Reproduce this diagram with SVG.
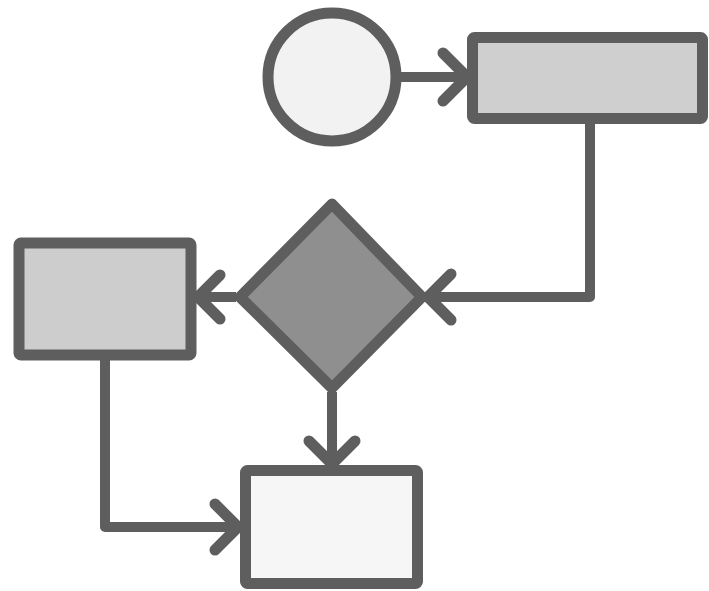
<svg xmlns="http://www.w3.org/2000/svg" width="709" height="591" viewBox="0 0 709 591">
<style>
.node{stroke:#5e5e5e;stroke-width:11;stroke-linejoin:round}
.conn{fill:none;stroke:#5e5e5e;stroke-width:10;stroke-linejoin:round}
.head{fill:none;stroke:#5e5e5e;stroke-width:11;stroke-linecap:round;stroke-linejoin:round}
</style>
<rect width="709" height="591" fill="#ffffff"/>
<g id="connectors">
  <line class="conn" x1="396" y1="77" x2="466" y2="77"/>
  <polyline class="head" points="443,53 467,77 443,101"/>
  <polyline class="conn" points="590,122 590,297 428,297"/>
  <polyline class="head" points="451,274 428,297 451,320"/>
  <line class="conn" x1="236" y1="297" x2="197" y2="297"/>
  <polyline class="head" points="220,275 198,297 220,319"/>
  <line class="conn" x1="332" y1="392" x2="332" y2="464"/>
  <polyline class="head" points="309,441 332,464 355,441"/>
  <polyline class="conn" points="105,360 105,527 238,527"/>
  <polyline class="head" points="215,504 238,527 215,550"/>
</g>
<g id="start">
  <circle class="node" cx="332" cy="77" r="64" fill="#f2f2f2" stroke-width="12"/>
</g>
<g id="process1">
  <rect class="node" x="472.5" y="37.5" width="230" height="81" rx="2" fill="#cfcfcf"/>
</g>
<g id="decision">
  <polygon class="node" points="332,204 422,297 332,388 240,297" fill="#8f8f8f" stroke-width="12"/>
</g>
<g id="process2">
  <rect class="node" x="19" y="243" width="172" height="112" rx="2" fill="#cdcdcd"/>
</g>
<g id="end">
  <rect class="node" x="245.5" y="470.5" width="172" height="113" rx="2" fill="#f6f6f6"/>
</g>
</svg>
